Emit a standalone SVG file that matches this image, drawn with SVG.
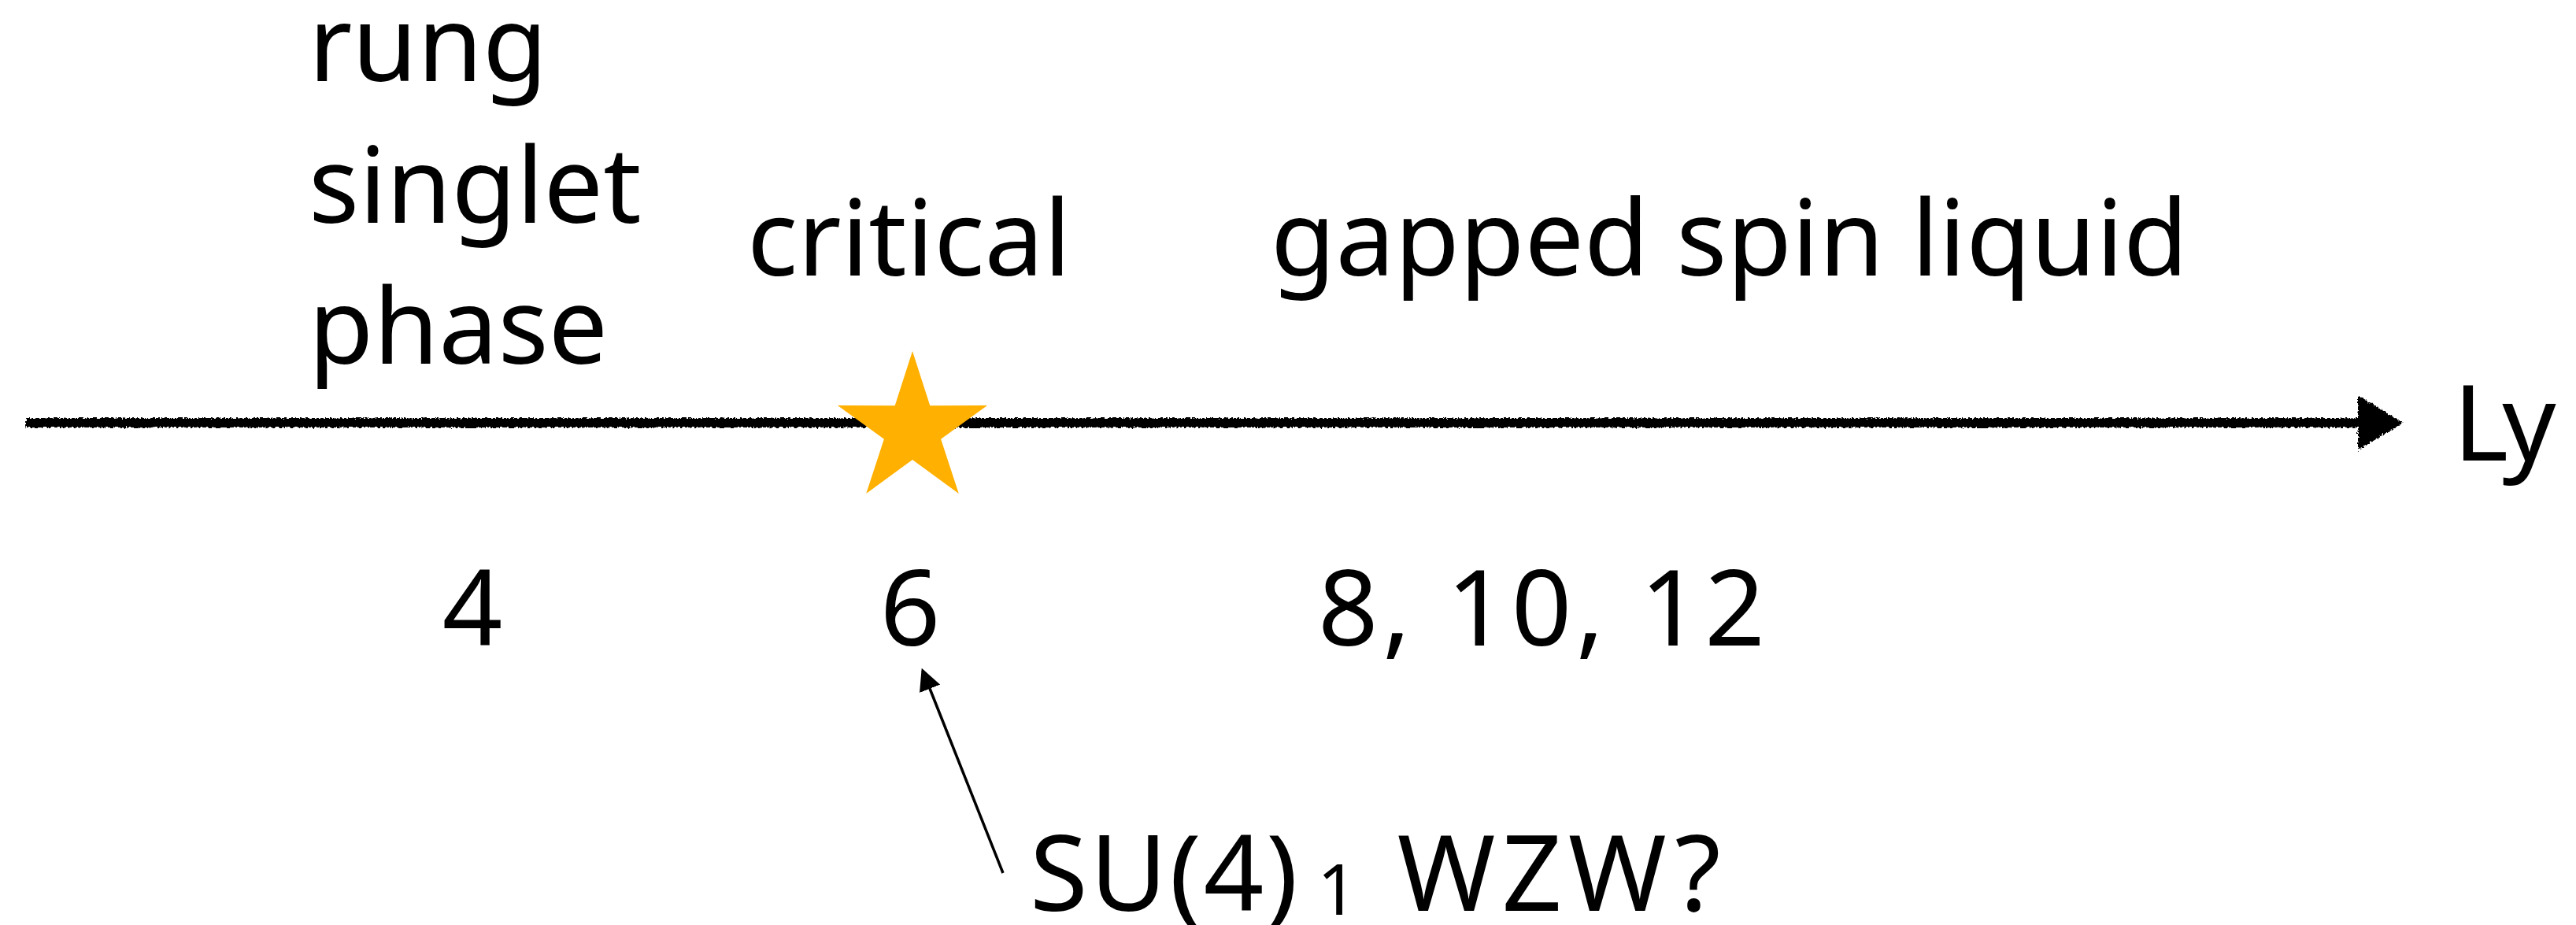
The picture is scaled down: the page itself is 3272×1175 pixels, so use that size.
<svg xmlns="http://www.w3.org/2000/svg" width="3272" height="1175" viewBox="0 0 3272 1175">
<style>
  .t { font-family: "Noto Sans", "Liberation Sans", sans-serif; font-size: 134px; fill: #000; }
  .rough { stroke: #000; stroke-width: 12; fill: none; }
</style>
<defs>
  <filter id="crayon" x="-1%" y="-50%" width="102%" height="200%">
    <feTurbulence type="fractalNoise" baseFrequency="0.4" numOctaves="2" seed="3" result="n"/>
    <feDisplacementMap in="SourceGraphic" in2="n" scale="6" xChannelSelector="R" yChannelSelector="G"/>
  </filter>
  <marker id="ah" markerWidth="8" markerHeight="8" refX="7" refY="4" orient="auto" markerUnits="strokeWidth">
    <path d="M0,0 L8,4 L0,8 Z" fill="#000"/>
  </marker>
</defs>
<rect width="3272" height="1175" fill="#fff"/>
<g id="connectors">
  <g id="axis" filter="url(#crayon)">
    <path class="rough" d="M33,537 L3000,537"/>
    <path d="M2995,502 L3052,537 L2995,572 Z" fill="#000"/>
  </g>
  <line id="annotation-arrow" x1="1274" y1="1109" x2="1172" y2="852" stroke="#000" stroke-width="3.5" marker-end="url(#ah)"/>
</g>
<g id="label-rung-singlet">
  <text class="t" x="392" y="103">rung</text>
  <text class="t" x="392" y="283">singlet</text>
  <text class="t" x="392" y="462">phase</text>
</g>
<g id="label-critical"><text class="t" x="949" y="350">critical</text></g>
<g id="label-gapped"><text class="t" x="1614" y="350">gapped spin liquid</text></g>
<g id="label-Ly"><text class="t" x="3116" y="585" letter-spacing="-8">Ly</text></g>
<g id="star-critical">
  <polygon fill="#FFB000" points="1159,446 1181.3,515.3 1254.1,515.1 1195.1,557.7 1217.8,626.9 1159,584 1100.2,626.9 1122.9,557.7 1063.9,515.1 1136.7,515.3"/>
</g>
<g id="tick-4"><text class="t" x="600" y="820" text-anchor="middle">4</text></g>
<g id="tick-6"><text class="t" x="1156" y="820" text-anchor="middle">6</text></g>
<g id="tick-8-10-12"><text class="t" x="1674" y="820" textLength="568" lengthAdjust="spacing">8, 10, 12</text></g>
<g id="label-su4"><text class="t" y="1157"><tspan x="1308" letter-spacing="3">SU(4)</tspan><tspan x="1673" font-size="90" dy="5">1</tspan><tspan x="1732" dy="-5" letter-spacing="8"> WZW?</tspan></text></g>
</svg>
